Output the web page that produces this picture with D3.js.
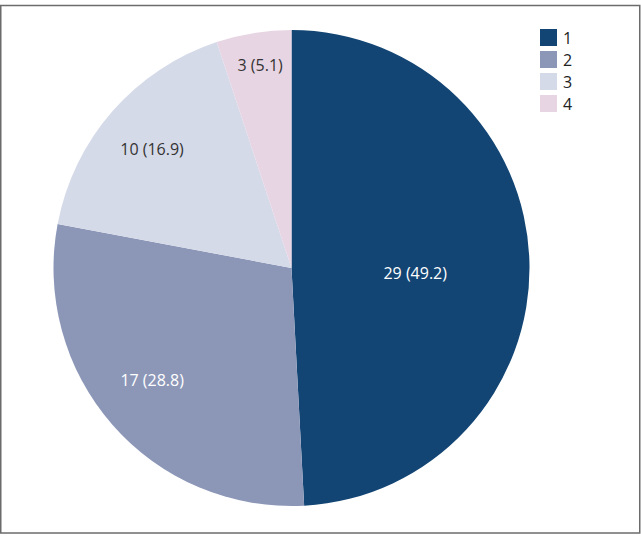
<!DOCTYPE html>
<html>
<head>
<meta charset="utf-8">
<script src="https://cdn.jsdelivr.net/npm/d3@7"></script>
<style>
  body { margin: 0; background: #fff; }
  svg { display: block; font-family: "Open Sans", sans-serif; }
</style>
</head>
<body>
<div id="chart"></div>
<script>
const categories = ["1", "2", "3", "4"];
const counts = [29, 17, 10, 3];
const percents = [49.2, 28.8, 16.9, 5.1];

const width = 641, height = 537;
const colors = ["#124574", "#8c97b8", "#d5dae9", "#e7d5e3"];
const textColors = ["#fff", "#fff", "#333", "#333"];
// how far out from the centre each label sits (fraction of radius) + small nudges
const labelPos = [0.52, 0.75, 0.79, 0.88];
const labelNudge = [[0, 9], [-5, -5], [2, 5], [2, 4]];

const svg = d3.select("#chart").append("svg")
  .attr("width", width)
  .attr("height", height);

// frame
svg.append("rect")
  .attr("x", 0.75).attr("y", 5.5)
  .attr("width", 639).attr("height", 527.5)
  .attr("fill", "none")
  .attr("stroke", "#6b6b6b")
  .attr("stroke-width", 1.5);

const cx = 291.5, cy = 268, r = 238;
const data = categories.map((c, i) => ({ cat: c, n: counts[i], pct: percents[i], i }));

const pie = d3.pie().value(d => d.n).sort(null);
const arc = d3.arc().innerRadius(0).outerRadius(r);

const g = svg.append("g").attr("transform", `translate(${cx},${cy})`);
const arcs = pie(data);

g.selectAll("path").data(arcs).enter()
  .append("path")
  .attr("d", arc)
  .attr("fill", d => colors[d.data.i]);

g.selectAll("text.lbl").data(arcs).enter()
  .append("text")
  .attr("class", "lbl")
  .attr("transform", d => {
    const rr = r * labelPos[d.data.i];
    const a = d3.arc().innerRadius(rr).outerRadius(rr);
    const [x, y] = a.centroid(d);
    const [nx, ny] = labelNudge[d.data.i];
    return `translate(${x + nx},${y + ny})`;
  })
  .attr("text-anchor", "middle")
  .attr("dy", "0.35em")
  .style("font-size", "16px")
  .attr("fill", d => textColors[d.data.i])
  .text(d => `${d.data.n} (${d.data.pct})`);

// legend
const legend = svg.append("g").attr("transform", "translate(540,29)");
const item = legend.selectAll("g").data(categories).enter()
  .append("g")
  .attr("transform", (d, i) => `translate(0,${i * 22})`);
item.append("rect")
  .attr("width", 17).attr("height", 17)
  .attr("fill", (d, i) => colors[i]);
item.append("text")
  .attr("x", 23).attr("y", 9).attr("dy", "0.35em")
  .style("font-size", "16px")
  .attr("fill", "#222")
  .text(d => d);
</script>
</body>
</html>
